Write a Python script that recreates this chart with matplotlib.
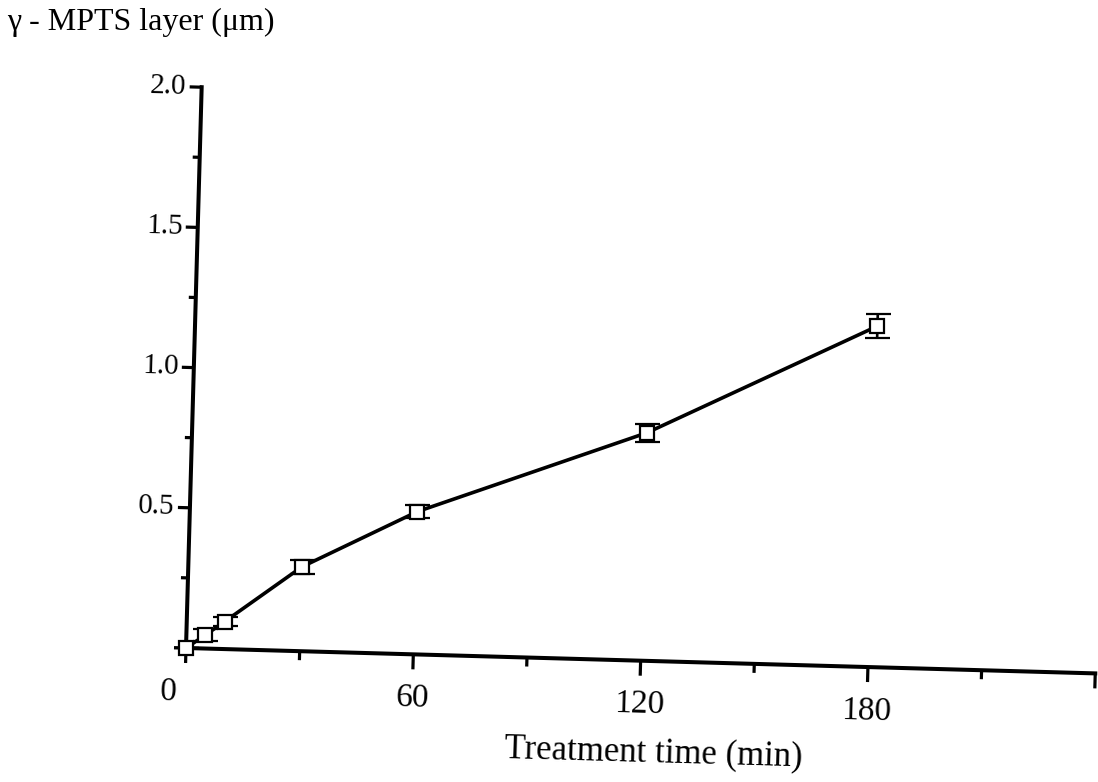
import numpy as np
import matplotlib.pyplot as plt
from matplotlib.transforms import Affine2D

# datos: tiempo de tratamiento (min) vs espesor de capa (um)
t_min = [0, 5, 10, 30, 60, 120, 180]
capa_um = [0.0, 0.048, 0.098, 0.301, 0.509, 0.813, 1.216]
err_um = [0.0, 0.021, 0.016, 0.025, 0.022, 0.032, 0.042]

# marcas de los ejes
xt_major = [0, 60, 120, 180, 240]
xt_minor = [30, 90, 150, 210]
xt_labels = ['0', '60', '120', '180']
yt_major = [0, 0.5, 1.0, 1.5, 2.0]
yt_minor = [0.25, 0.75, 1.25, 1.75]
yt_labels = ['0.5', '1.0', '1.5', '2.0']

fuente = 'Liberation Serif'

W, H = 1098, 782
fig = plt.figure(figsize=(W / 100, H / 100), dpi=100)
ax = fig.add_axes([0, 0, 1, 1])

# escala: origen del grafico en pixeles y pixeles por unidad
ox, oy = 186, 134
px_min = 3.79
px_um = 280.5
ax.set_xlim(-ox / px_min, (W - ox) / px_min)
ax.set_ylim(-oy / px_um, (H - oy) / px_um)
ax.axis('off')

# la hoja esta ligeramente girada
giro = -1.6
tr = ax.transData + Affine2D().rotate_deg_around(ox, oy, giro)

# ejes
ax.plot([0, 240], [0, 0], color='black', lw=2.9, solid_capstyle='projecting', transform=tr)
ax.plot([0, 0], [0, 2.0], color='black', lw=2.9, solid_capstyle='projecting', transform=tr)

# ticks
ax.vlines(xt_major, 0, -15 / px_um, colors='black', lw=2.3, transform=tr)
ax.vlines(xt_minor, 0, -9 / px_um, colors='black', lw=2.3, transform=tr)
ax.hlines(yt_major, 0, -12 / px_min, colors='black', lw=2.3, transform=tr)
ax.hlines(yt_minor, 0, -7 / px_min, colors='black', lw=2.3, transform=tr)

for x, s in zip(xt_major, xt_labels):
    dx = -16 / px_min if x == 0 else 0
    ax.text(x + dx, -29 / px_um, s, transform=tr, rotation=giro, rotation_mode='anchor',
            ha='center', va='top', fontsize=24, family=fuente)

for y, s in zip(yt_major[1:], yt_labels):
    ax.text(-15 / px_min, y, s, transform=tr, rotation=giro, rotation_mode='anchor',
            ha='right', va='center', fontsize=21, family=fuente)

ax.text(124, -92 / px_um, 'Treatment time (min)', transform=tr, rotation=giro,
        rotation_mode='anchor', ha='center', va='center', fontsize=25, family=fuente)
fig.text(7 / W, 1 - 22 / H, 'γ - MPTS layer (μm)', ha='left', va='center',
         fontsize=23, family=fuente)

# curva con barras de error
cont = ax.errorbar(t_min, capa_um, yerr=err_um, fmt='-s', color='black', lw=2.6,
                   ms=9.5, mfc='white', mec='black', mew=1.6,
                   ecolor='black', elinewidth=1.9, capsize=9, capthick=2.4)
linea, caps, barras = cont.lines
linea.set_transform(tr)
linea.set_zorder(4)
for art in list(caps) + list(barras):
    art.set_transform(tr)
    art.set_zorder(3)

fig.savefig('out.png', dpi=100)
